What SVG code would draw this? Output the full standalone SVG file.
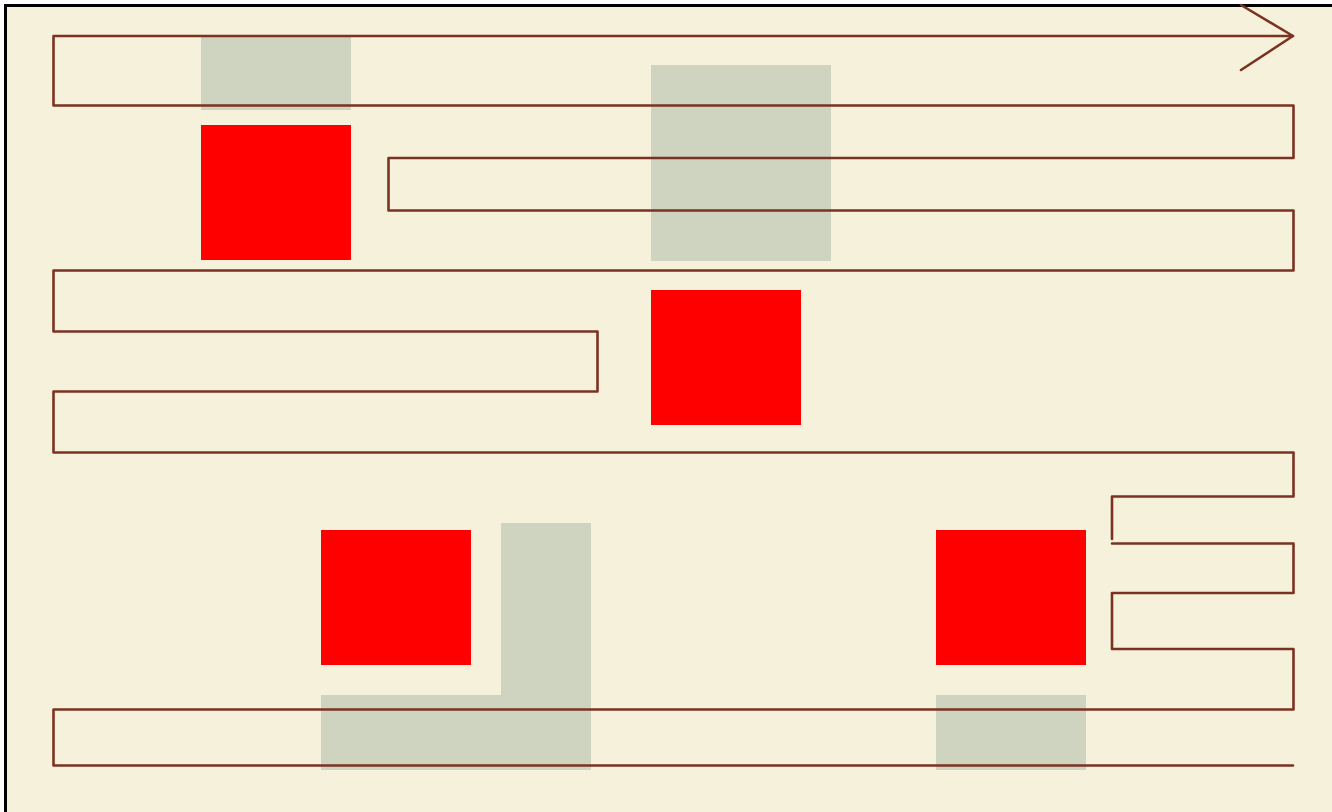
<svg xmlns="http://www.w3.org/2000/svg" width="1332" height="812" viewBox="0 0 1332 812">
<style>
.bg{fill:#f6f1db}
.zone{fill:#cfd4c1}
.block{fill:#ff0000}
.wire{fill:none;stroke:#7b3222;stroke-width:2.6;stroke-linejoin:round;stroke-linecap:round}
</style>
<rect x="0" y="0" width="1332" height="812" fill="#ffffff"/>
<rect class="bg" x="5.5" y="5.5" width="1340" height="820" stroke="#000" stroke-width="3"/>
<g id="zone1"><rect class="zone" x="201" y="37" width="150" height="73"/></g>
<g id="zone2"><rect class="zone" x="651" y="65" width="180" height="196"/></g>
<g id="zone3"><path class="zone" d="M501,523 H591 V770 H321 V695 H501 Z"/></g>
<g id="zone4"><rect class="zone" x="936" y="695" width="150" height="75"/></g>
<g id="block1"><rect class="block" x="201" y="125" width="150" height="135"/></g>
<g id="block2"><rect class="block" x="651" y="290" width="150" height="135"/></g>
<g id="block3"><rect class="block" x="321" y="530" width="150" height="135"/></g>
<g id="block4"><rect class="block" x="936" y="530" width="150" height="135"/></g>
<g id="connectors">
<path class="wire" d="M1293,36 H53.5 V105.5 H1293.5 V158 H388.5 V210.5 H1293.5 V270.5 H53.5 V331.5 H597.5 V391.5 H53.5 V452.5 H1293.5 V496.5 H1112 V539"/>
<path class="wire" d="M1112,543.5 H1293.5 V593 H1112 V649 H1293.5 V709.5 H53.5 V765.5 H1293"/>
<path class="wire" d="M1241,5 L1293,36 L1241,70"/>
</g>
</svg>
